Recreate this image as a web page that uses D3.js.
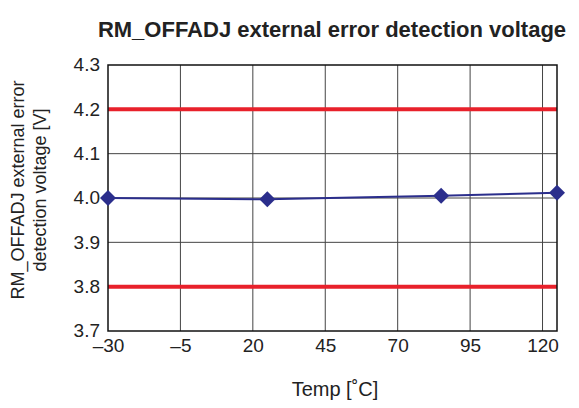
<!DOCTYPE html>
<html><head><meta charset="utf-8">
<script src="https://cdn.jsdelivr.net/npm/d3@7"></script>
<style>body{margin:0;background:#fff}svg{display:block}text{font-family:"Liberation Sans",Arial,sans-serif;fill:#222}</style>
</head><body><svg id="c" width="579" height="408"></svg>
<script>
const temps = [-30, 25, 85, 125];
const voltage = [4.000, 3.997, 4.005, 4.012];
const limits = [4.2, 3.8];
const xTicks = [-30, -5, 20, 45, 70, 95, 120];
const yTicks = [3.7, 3.8, 3.9, 4.0, 4.1, 4.2, 4.3];
const title = "RM_OFFADJ external error detection voltage";
const xTitle = "Temp [˚C]";
const yTitle = ["RM_OFFADJ external error", "detection voltage [V]"];

const svg = d3.select("#c");
const L = 108, R = 557, T = 65, B = 331;
const x = d3.scaleLinear().domain([-30, 125]).range([L, R]);
const y = d3.scaleLinear().domain([3.7, 4.3]).range([B, T]);

// grid
svg.append("g").selectAll("line").data(xTicks.slice(1)).join("line")
  .attr("x1", d => x(d)).attr("x2", d => x(d)).attr("y1", T).attr("y2", B)
  .attr("stroke", "#444").attr("stroke-width", 1);
svg.append("g").selectAll("line").data(yTicks.slice(1, -1)).join("line")
  .attr("x1", L).attr("x2", R).attr("y1", d => y(d)).attr("y2", d => y(d))
  .attr("stroke", "#444").attr("stroke-width", 1);

// axes (labels only)
const xa = svg.append("g").attr("transform", `translate(0,${B})`)
  .call(d3.axisBottom(x).tickValues(xTicks).tickSize(0).tickPadding(8).tickFormat(d => d < 0 ? "\u2013" + Math.abs(d) : d));
const ya = svg.append("g").attr("transform", `translate(${L},0)`)
  .call(d3.axisLeft(y).tickValues(yTicks).tickSize(0).tickPadding(8).tickFormat(d3.format(".1f")));
[xa, ya].forEach(a => { a.select(".domain").remove(); a.selectAll("text").attr("font-size", 19).attr("fill", "#222").attr("font-family", "Liberation Sans, Arial, sans-serif"); });
ya.selectAll("text").attr("dy", "0.3em");

// limit lines
svg.append("g").selectAll("line").data(limits).join("line")
  .attr("x1", L).attr("x2", R).attr("y1", d => y(d)).attr("y2", d => y(d))
  .attr("stroke", "#e8212b").attr("stroke-width", 4);

// frame
svg.append("rect").attr("x", L).attr("y", T).attr("width", R - L).attr("height", B - T)
  .attr("fill", "none").attr("stroke", "#111").attr("stroke-width", 1.5);

// series
const pts = temps.map((t, i) => [t, voltage[i]]);
svg.append("path").datum(pts)
  .attr("d", d3.line().x(d => x(d[0])).y(d => y(d[1])))
  .attr("fill", "none").attr("stroke", "#2b2e8c").attr("stroke-width", 2);
svg.append("g").selectAll("path").data(pts).join("path")
  .attr("transform", d => `translate(${x(d[0])},${y(d[1])})`)
  .attr("d", "M0,-8L8,0L0,8L-8,0Z").attr("fill", "#2b2e8c");

// titles
svg.append("text").attr("x", 332).attr("y", 37).attr("text-anchor", "middle")
  .attr("font-size", 22).attr("font-weight", "bold").text(title);
svg.append("text").attr("x", 335).attr("y", 396).attr("text-anchor", "middle")
  .attr("font-size", 20).text(xTitle);
const yt = svg.append("text").attr("transform", "translate(24,190) rotate(-90)").attr("text-anchor", "middle").attr("font-size", 18);
yTitle.forEach((s, i) => yt.append("tspan").attr("x", 0).attr("dy", i === 0 ? 0 : 22).text(s));
</script></body></html>
